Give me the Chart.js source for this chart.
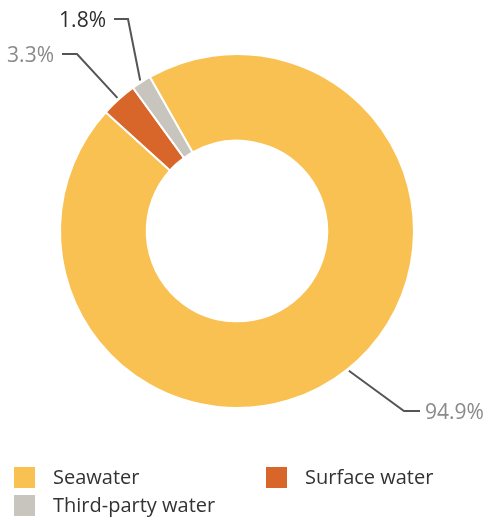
<!DOCTYPE html>
<html>
<head>
<meta charset="utf-8">
<script src="https://cdn.jsdelivr.net/npm/chart.js@4.4.1/dist/chart.umd.min.js"></script>
<style>
  html, body { margin: 0; padding: 0; background: #fff; }
  #wrap { width: 491px; height: 520px; position: relative; }
</style>
</head>
<body>
<div id="wrap"><canvas id="waterChart"></canvas></div>
<script>
// water withdrawal by source
const sources = ["Seawater", "Surface water", "Third-party water"];
const shares = [94.9, 3.3, 1.8];
const valueLabels = ["94.9%", "3.3%", "1.8%"];
const colors = ["#F9C151", "#D8662A", "#C8C4BE"];

// leader lines: elbow + end of the horizontal stub, relative to the centre
const leaders = [
  { elbow: [167, 180], end: [183, 180], align: "left", color: "#8a8a8a" },
  { elbow: [-160, -177], end: [-175, -177], align: "right", color: "#8a8a8a" },
  { elbow: [-109, -212], end: [-123, -212], align: "right", color: "#2e2e2e" }
];

const leaderPlugin = {
  id: "leaderLabels",
  afterDraw(chart) {
    const ctx = chart.ctx;
    const arcs = chart.getDatasetMeta(0).data;
    ctx.save();
    ctx.font = "21px 'Open Sans', sans-serif";
    ctx.textBaseline = "middle";
    arcs.forEach((arc, i) => {
      const l = leaders[i];
      const mid = (arc.startAngle + arc.endAngle) / 2;
      const r = arc.outerRadius + 2;
      const sx = arc.x + Math.cos(mid) * r;
      const sy = arc.y + Math.sin(mid) * r;
      ctx.strokeStyle = "#555";
      ctx.lineWidth = 2;
      ctx.beginPath();
      ctx.moveTo(sx, sy);
      ctx.lineTo(arc.x + l.elbow[0], arc.y + l.elbow[1]);
      ctx.lineTo(arc.x + l.end[0], arc.y + l.end[1]);
      ctx.stroke();
      ctx.fillStyle = l.color;
      ctx.textAlign = l.align;
      const tx = arc.x + l.end[0] + (l.align === "left" ? 5 : -8);
      ctx.fillText(valueLabels[i], tx, arc.y + l.end[1] + 2);
    });
    ctx.restore();
  }
};

// legend in two columns under the doughnut
const legendPlugin = {
  id: "bottomLegend",
  afterDraw(chart) {
    const ctx = chart.ctx;
    const slots = [[14, 467], [266, 467], [14, 495]];
    ctx.save();
    ctx.font = "20px 'Open Sans', sans-serif";
    ctx.textBaseline = "middle";
    ctx.textAlign = "left";
    sources.forEach((name, i) => {
      const [x, y] = slots[i];
      ctx.fillStyle = colors[i];
      ctx.fillRect(x, y, 21, 21);
      ctx.fillStyle = "#333";
      ctx.fillText(name, x + 39, y + 11);
    });
    ctx.restore();
  }
};

new Chart(document.getElementById("waterChart"), {
  type: "doughnut",
  data: {
    labels: sources,
    datasets: [{
      data: shares,
      backgroundColor: colors,
      borderColor: "#fff",
      borderWidth: 2,
      hoverOffset: 0
    }]
  },
  options: {
    responsive: true,
    maintainAspectRatio: false,
    animation: false,
    rotation: -29.5,
    cutout: "51%",
    radius: 177,
    layout: { padding: { left: 60, right: 77, top: 54, bottom: 112 } },
    plugins: {
      legend: { display: false },
      tooltip: { enabled: false }
    }
  },
  plugins: [leaderPlugin, legendPlugin]
});
</script>
</body>
</html>
